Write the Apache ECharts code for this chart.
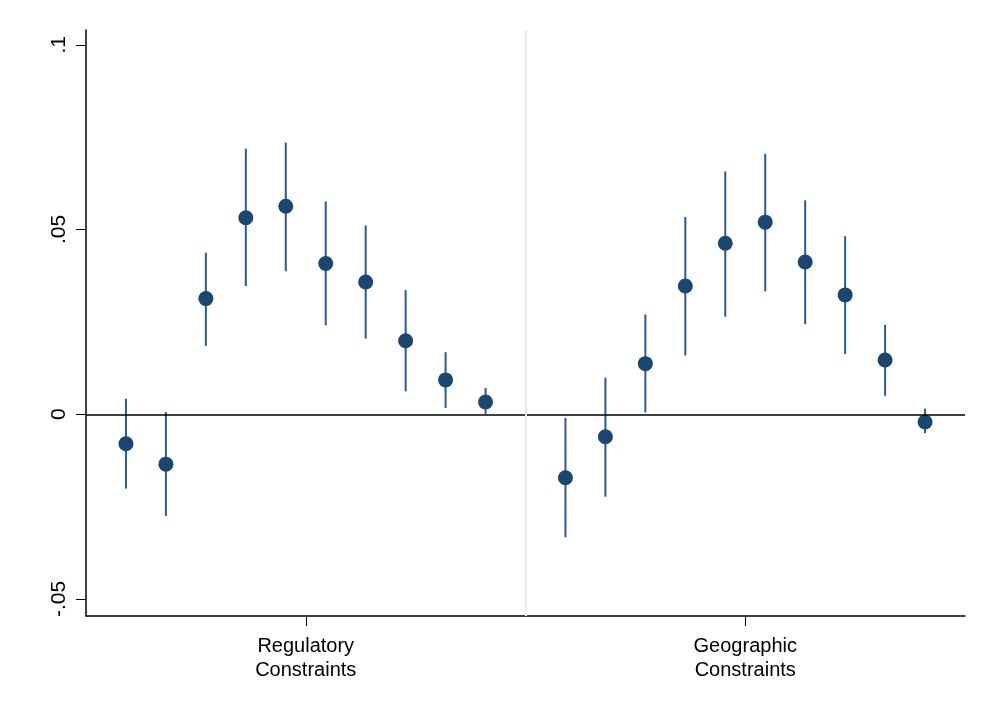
<!DOCTYPE html>
<html>
<head>
<meta charset="utf-8">
<script src="https://cdn.jsdelivr.net/npm/echarts@6/dist/echarts.min.js"></script>
<style>
html,body{margin:0;padding:0;background:#fff;}
#chart{width:986px;height:708px;}
</style>
</head>
<body>
<div id="chart"></div>
<script>
// Data
const groupLabels = ['Regulatory\nConstraints', 'Geographic\nConstraints'];
const groupCenters = [5.5, 16.5];
const separatorPos = 11;
const xPositions = [1,2,3,4,5,6,7,8,9,10, 12,13,14,15,16,17,18,19,20,21];
const estimates = [-0.0080,-0.0135,0.0313,0.0532,0.0563,0.0408,0.0358,0.0199,0.0093,0.0033,
                   -0.0172,-0.0061,0.0137,0.0347,0.0463,0.0520,0.0412,0.0323,0.0147,-0.0021];
const ciLow = [-0.0201,-0.0275,0.0185,0.0347,0.0387,0.0241,0.0205,0.0062,0.0017,0.0001,
               -0.0333,-0.0223,0.0005,0.0159,0.0264,0.0333,0.0244,0.0163,0.0050,-0.0051];
const ciHigh = [0.0042,0.0006,0.0437,0.0719,0.0735,0.0576,0.0511,0.0336,0.0168,0.0071,
                -0.0010,0.0099,0.0270,0.0534,0.0657,0.0705,0.0579,0.0482,0.0242,0.0015];
const yTicks = [-0.05, 0, 0.05, 0.1];
const yTickLabels = ['-.05', '0', '.05', '.1'];

const chart = echarts.init(document.getElementById('chart'));
const font = 'Liberation Sans, Arial, sans-serif';
const navy = '#1a476f';

const option = {
  animation: false,
  backgroundColor: '#fff',
  grid: {left: 86, right: 21, top: 30, bottom: 92, containLabel: false},
  xAxis: {
    type: 'value', min: 0, max: 22,
    splitLine: {show: false},
    axisLine: {show: true, onZero: false, lineStyle: {color: '#000', width: 1.5}},
    axisTick: {show: true, customValues: groupCenters, length: 10, lineStyle: {color: '#000', width: 1}},
    axisLabel: {
      customValues: groupCenters,
      formatter: function (v) {
        const i = groupCenters.indexOf(v);
        return i >= 0 ? groupLabels[i] : '';
      },
      fontFamily: font, fontSize: 20, color: '#000', lineHeight: 24, margin: 18
    }
  },
  yAxis: {
    type: 'value', min: -0.0546, max: 0.104,
    splitLine: {show: false},
    axisLine: {show: true, onZero: false, lineStyle: {color: '#000', width: 1.5}},
    axisTick: {show: true, customValues: yTicks, length: 10, lineStyle: {color: '#000', width: 1}},
    axisLabel: {
      customValues: yTicks,
      rotate: 90,
      formatter: function (v) {
        for (let i = 0; i < yTicks.length; i++) if (Math.abs(v - yTicks[i]) < 1e-9) return yTickLabels[i];
        return '';
      },
      fontFamily: font, fontSize: 21, color: '#000', margin: 16
    }
  },
  series: [
    {
      type: 'line', data: [], silent: true,
      markLine: {
        symbol: 'none', silent: true, label: {show: false},
        data: [
          {yAxis: 0, lineStyle: {color: '#000', width: 1.5, type: 'solid'}},
          {xAxis: separatorPos, lineStyle: {color: '#e4ecef', width: 2, type: 'solid'}}
        ]
      }
    },
    {
      type: 'custom',
      data: xPositions.map((x, i) => [x, ciLow[i], ciHigh[i]]),
      renderItem: function (params, api) {
        const p1 = api.coord([api.value(0), api.value(1)]);
        const p2 = api.coord([api.value(0), api.value(2)]);
        return {
          type: 'line',
          shape: {x1: p1[0], y1: p1[1], x2: p2[0], y2: p2[1]},
          style: {stroke: '#2d5b84', lineWidth: 2}
        };
      },
      z: 3
    },
    {
      type: 'scatter',
      data: xPositions.map((x, i) => [x, estimates[i]]),
      symbol: 'circle', symbolSize: 15,
      itemStyle: {color: navy, opacity: 1},
      z: 4
    }
  ]
};
chart.setOption(option);
</script>
</body>
</html>
